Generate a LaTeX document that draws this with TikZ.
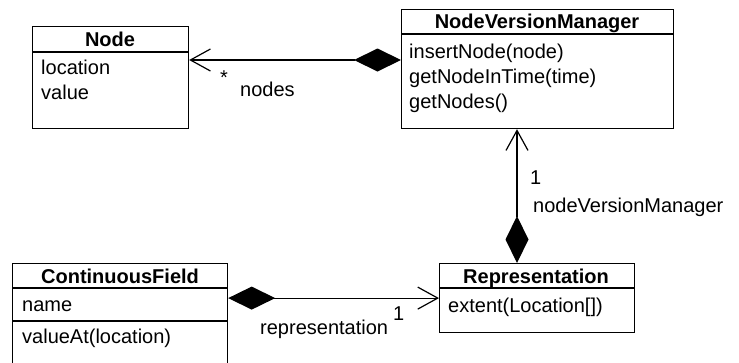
\documentclass[tikz,border=0pt]{standalone}
\usepackage{fontspec}
\setmainfont{Liberation Sans}
\usetikzlibrary{arrows.meta}
\begin{document}
\begin{tikzpicture}[x=1pt,y=-1pt,
  box/.style={draw, line width=1.2pt, anchor=north west, inner sep=0pt},
  sep/.style={line width=1.2pt},
  txt/.style={anchor=base west, inner sep=0pt, font=\fontsize{20}{24}\selectfont},
  head/.style={anchor=base, inner sep=0pt, font=\fontsize{20}{24}\selectfont\bfseries},
  comp/.style={line width=1.2pt,
    {Diamond[length=47pt,width=23pt]}-{Straight Barb[length=20pt,width=22pt]}},
  ]
\clip (0,0) rectangle (739,362);
\fill[white] (0,0) rectangle (739,362);

% class Node
\node[box, minimum width=156pt, minimum height=102pt] (node) at (32,26) {};
\draw[sep] (node.west |- 0,52) -- (node.east |- 0,52);
\node[head] (nodeT) at (110,46) {Node};
\node[txt] (nodeA1) at (41,74) {location};
\node[txt] (nodeA2) at (41,99) {value};

% class NodeVersionManager
\node[box, minimum width=272pt, minimum height=119pt] (nvm) at (401,9) {};
\draw[sep] (nvm.west |- 0,34) -- (nvm.east |- 0,34);
\node[head] (nvmT) at (537,28) {NodeVersionManager};
\node[txt] (nvmM1) at (409,58) {insertNode(node)};
\node[txt] (nvmM2) at (409,83) {getNodeInTime(time)};
\node[txt] (nvmM3) at (409,108) {getNodes()};

% class Representation
\node[box, minimum width=195pt, minimum height=69pt] (rep) at (439,263) {};
\draw[sep] (rep.west |- 0,288) -- (rep.east |- 0,288);
\node[head] (repT) at (536,283) {Representation};
\node[txt] (repM1) at (448,312) {extent(Location[])};

% class ContinuousField
\node[box, minimum width=215pt, minimum height=125pt] (cf) at (12,263) {};
\draw[sep] (cf.west |- 0,288) -- (cf.east |- 0,288);
\draw[sep] (cf.west |- 0,321) -- (cf.east |- 0,321);
\node[head] (cfT) at (120,283) {ContinuousField};
\node[txt] (cfA1) at (22,311) {name};
\node[txt] (cfM1) at (22,343) {valueAt(location)};

% compositions
\draw[comp] (nvm.west |- 0,60) -- (node.east |- 0,60);
\coordinate (vx) at (517,0);
\draw[comp] (rep.north -| vx) -- (nvm.south -| vx);
\draw[comp] (cf.east |- rep.west) -- (rep.west);

% role names and multiplicities
\node[txt] (mNodes) at (220,84) {*};
\node[txt] (rNodes) at (240,96) {nodes};
\node[txt] (mNvm) at (530,184) {1};
\node[txt] (rNvm) at (533,212) {nodeVersionManager};
\node[txt] (rRep) at (260,334) {representation};
\node[txt] (mRep) at (393,320) {1};
\end{tikzpicture}
\end{document}
